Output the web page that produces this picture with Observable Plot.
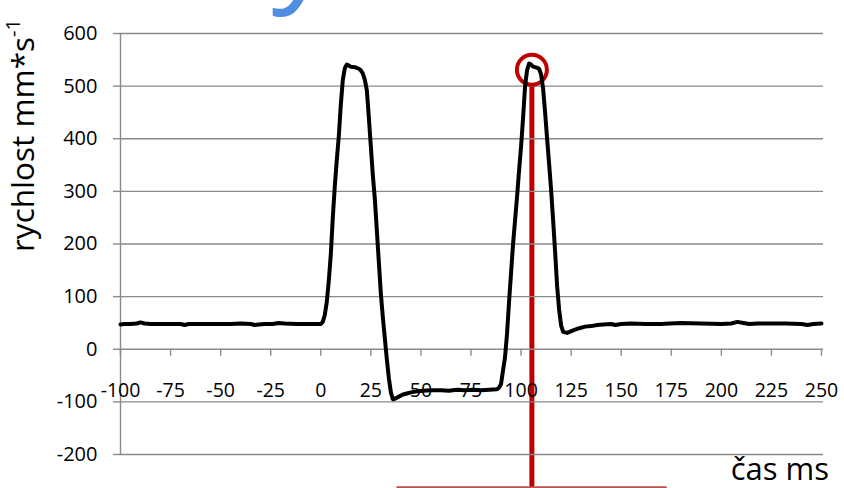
<!DOCTYPE html>
<html><head><meta charset="utf-8">
<script src="https://cdn.jsdelivr.net/npm/d3@7"></script>
<script src="https://cdn.jsdelivr.net/npm/@observablehq/plot@0.6"></script>
<style>body{margin:0;background:#fff;font-family:"Open Sans";}</style>
</head><body><div id="chart"></div>
<script>
const time = [-100,-98,-95,-92,-90,-88,-85,-80,-75,-70,-68,-66,-60,-55,-50,-45,-40,-35,-33,-31,-28,-24,-21,-18,-12,-6,-2,0,
  1,2,3,4,5,6,7,8,9,10,11,12,13,14,15,17,19,20,21,22,23,24,25,26,27,28,29,30,31,32,33,34,35,36,37,39,41,43,45,48,51,55,60,64,68,72,76,80,84,88,89,90,91,
  92,93,94,95,96,97,98,99,100,101,102,103,104,105,106,107,108,109,110,111,112,113,114,115,116,117,118,119,120,121,123,126,129,132,135,138,141,145,147,150,155,162,170,174,180,190,200,205,208,211,214,218,225,232,240,243,246,250];
const speed = [47,48,48,49,51,49,48,48,48,48,46,48,48,48,48,48,49,48,46,47,48,48,50,49,48,48,48,48,
  52,65,90,130,180,250,310,360,405,465,512,534,541,539,537,536,533,530,524,512,492,440,385,330,285,225,165,105,60,20,-20,-55,-82,-95,-94,-90,-86,-84,-82,-80,-79,-78,-78,-79,-77,-78,-77,-78,-77,-76,-73,-66,-40,
  -15,30,90,145,200,245,290,340,385,440,500,530,543,541,537,536,535,533,522,495,450,400,352,303,245,185,120,75,45,33,31,36,40,43,44,46,47,48,46,48,49,48,48,49,50,49,48,49,52,50,48,49,49,49,48,46,48,49];
const yTicks = [-200,-100,0,100,200,300,400,500,600];
const xTicks = [-100,-75,-50,-25,0,25,50,75,100,125,150,175,200,225,250];
const markerTime = [105.4];
const markerSpeed = [531];
const markerLineTop = [505];
const markerLineBottom = [-270];
const bottomBarSpeed = [-262];
const bottomBarFrom = [38];
const bottomBarTo = [173];

const data = time.map((t, i) => ({t, v: speed[i]}));
const grey = "#8a8a8a";

const plot = Plot.plot({
  width: 844, height: 488,
  marginLeft: 120, marginRight: 23, marginTop: 33, marginBottom: 34,
  x: {domain: [-100, 250], axis: null},
  y: {domain: [-200, 600], axis: null},
  style: {fontFamily: "Open Sans", background: "white", overflow: "visible"},
  marks: [
    Plot.ruleX(markerTime, {y1: markerLineTop[0], y2: markerLineBottom[0], stroke: "#c00000", strokeWidth: 5}),
    Plot.ruleY(yTicks, {x1: -100, x2: 250, stroke: grey, strokeWidth: 1.4, insetRight: -2}),
    Plot.ruleX([-100], {y1: -200, y2: 600, stroke: grey, strokeWidth: 1.4}),
    Plot.axisY(yTicks, {tickSize: 7, tickPadding: 16, stroke: grey, strokeWidth: 1.4, fill: "#000", fontSize: 20, tickFormat: d => String(d), label: null}),
    Plot.ruleX(xTicks, {y1: 0, y2: 0, insetBottom: -7, stroke: grey, strokeWidth: 1.4}),
    Plot.text(xTicks, {x: d => d, y: 0, dy: 41, text: d => String(d), fontSize: 19.5, fill: "#000"}),
    Plot.ruleY(bottomBarSpeed, {x1: bottomBarFrom[0], x2: bottomBarTo[0], stroke: "#c0504d", strokeWidth: 2}),
    Plot.dot(markerTime.map((t, i) => ({t, v: markerSpeed[i]})), {x: "t", y: "v", r: 15, stroke: "#c00000", strokeWidth: 4, fill: "none"}),
    Plot.line(data, {x: "t", y: "v", stroke: "#000", strokeWidth: 4, strokeLinejoin: "round"})
  ]
});

const svg = d3.select(plot);
const ylab = svg.append("text")
  .attr("transform", "translate(34,252) rotate(-90)")
  .attr("text-anchor", "start")
  .attr("font-family", "Open Sans").attr("font-size", 31.5).attr("fill", "#000");
ylab.append("tspan").text("rychlost mm*s");
ylab.append("tspan").attr("dy", -14).attr("font-size", 20).text("-1");
svg.append("text")
  .attr("x", 829).attr("y", 480).attr("text-anchor", "end")
  .attr("font-family", "Open Sans").attr("font-size", 31).attr("fill", "#000")
  .text("čas ms");
svg.append("text")
  .attr("x", 312).attr("y", -12).attr("text-anchor", "middle")
  .attr("font-family", "Open Sans").attr("font-style", "italic")
  .attr("font-size", 120).attr("fill", "#4f8ee0")
  .text("y");

document.getElementById("chart").appendChild(plot);
</script>
</body></html>
